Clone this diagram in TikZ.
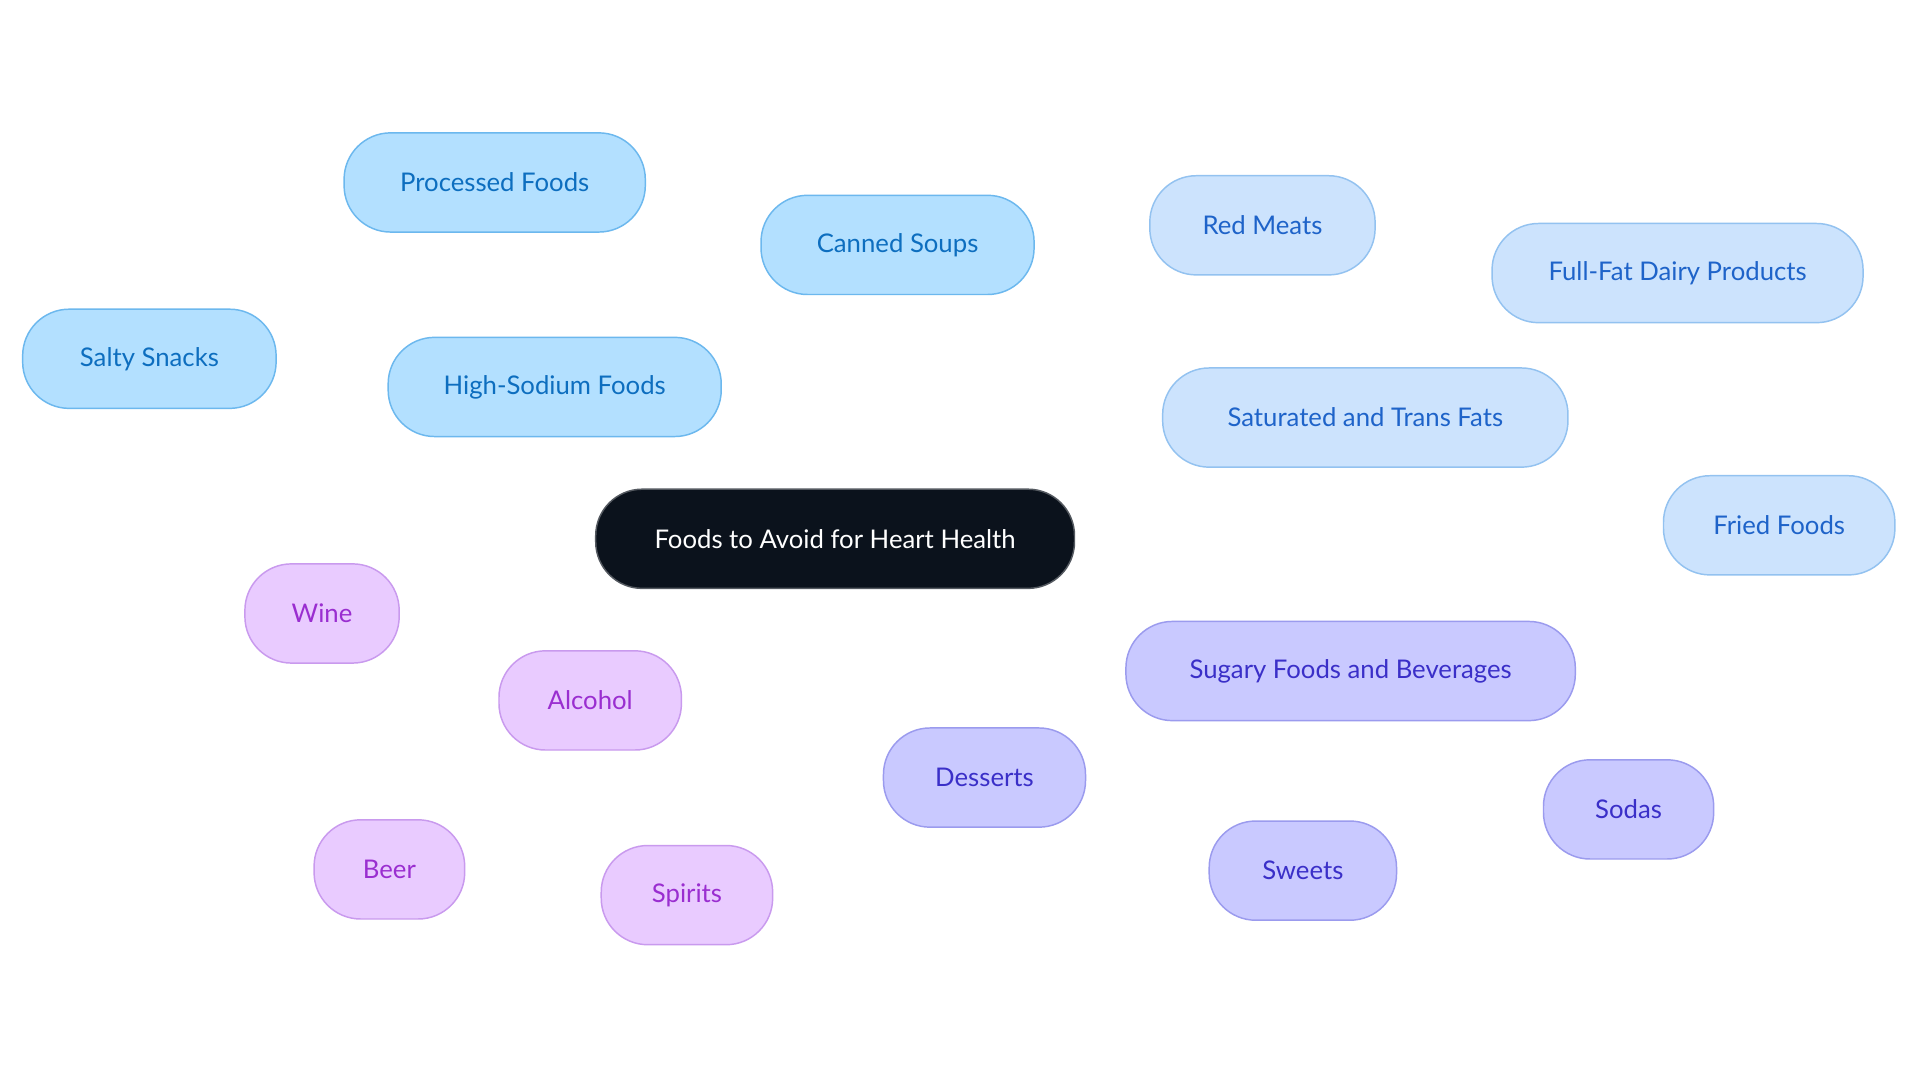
\documentclass[tikz,border=0pt]{standalone}
\usepackage{fontspec}
\setmainfont{Lato}
\usetikzlibrary{backgrounds}
\definecolor{bA}{HTML}{B3E0FF}\definecolor{bAd}{HTML}{6CB8EE}\definecolor{bAt}{HTML}{0D6EBF}
\definecolor{bB}{HTML}{CCE3FD}\definecolor{bBd}{HTML}{93C2F0}\definecolor{bBt}{HTML}{1E63C9}
\definecolor{bC}{HTML}{C9C9FF}\definecolor{bCd}{HTML}{9B9BEE}\definecolor{bCt}{HTML}{3A2FC8}
\definecolor{bD}{HTML}{E9CBFF}\definecolor{bDd}{HTML}{C99AEE}\definecolor{bDt}{HTML}{9A2ED0}
\definecolor{ctr}{HTML}{0B121C}
\tikzset{
 box/.style={rectangle,rounded corners=38pt,minimum height=81pt,line width=1.2pt,font=\fontsize{21}{25}\selectfont,inner sep=0pt},
 tA/.style={box,fill=bA,draw=bAd,text=bAt},
 tB/.style={box,fill=bB,draw=bBd,text=bBt},
 tC/.style={box,fill=bC,draw=bCd,text=bCt},
 tD/.style={box,fill=bD,draw=bDd,text=bDt},
 eA/.style={draw=bAd,line width=3pt},
 eB/.style={draw=bBd,line width=3pt},
 eC/.style={draw=bCd,line width=3pt},
 eD/.style={draw=bDd,line width=3pt},
}
\begin{document}
\begin{tikzpicture}[x=1pt,y=-1pt]
\useasboundingbox[fill=white] (0,0) rectangle (1568,884);
\node[box,fill=ctr,draw=ctr!70,text=white,minimum width=391pt] (c) at (682,440) {Foods to Avoid for Heart Health};
\node[tA,minimum width=272pt] (hs) at (453,316) {High-Sodium Foods};
\node[tA,minimum width=246pt] (pf) at (404,149) {Processed Foods};
\node[tA,minimum width=223pt] (cs) at (733,200) {Canned Soups};
\node[tA,minimum width=207pt] (ss) at (122,293) {Salty Snacks};
\node[tB,minimum width=331pt] (st) at (1115,341) {Saturated and Trans Fats};
\node[tB,minimum width=184pt] (rm) at (1031,184) {Red Meats};
\node[tB,minimum width=303pt] (fd) at (1370,223) {Full-Fat Dairy Products};
\node[tB,minimum width=189pt] (ff) at (1453,429) {Fried Foods};
\node[tC,minimum width=367pt] (sg) at (1103,548) {Sugary Foods and Beverages};
\node[tC,minimum width=165pt] (de) at (804,635) {Desserts};
\node[tC,minimum width=153pt] (sw) at (1064,711) {Sweets};
\node[tC,minimum width=139pt] (so) at (1330,661) {Sodas};
\node[tD,minimum width=149pt] (al) at (482,572) {Alcohol};
\node[tD,minimum width=126pt] (wi) at (263,501) {Wine};
\node[tD,minimum width=123pt] (be) at (318,710) {Beer};
\node[tD,minimum width=140pt] (sp) at (561,731) {Spirits};
\begin{pgfonlayer}{background}
\draw[eA] (c) -- (hs); \draw[eA] (hs) -- (pf); \draw[eA] (hs) -- (cs); \draw[eA] (hs) -- (ss);
\draw[eB] (c) -- (st); \draw[eB] (st) -- (rm); \draw[eB] (st) -- (fd); \draw[eB] (st) -- (ff);
\draw[eC] (c) -- (sg); \draw[eC] (sg) -- (de); \draw[eC] (sg) -- (sw); \draw[eC] (sg) -- (so);
\draw[eD] (c) -- (al); \draw[eD] (al) -- (wi); \draw[eD] (al) -- (be); \draw[eD] (al) -- (sp);
\end{pgfonlayer}
\end{tikzpicture}
\end{document}
